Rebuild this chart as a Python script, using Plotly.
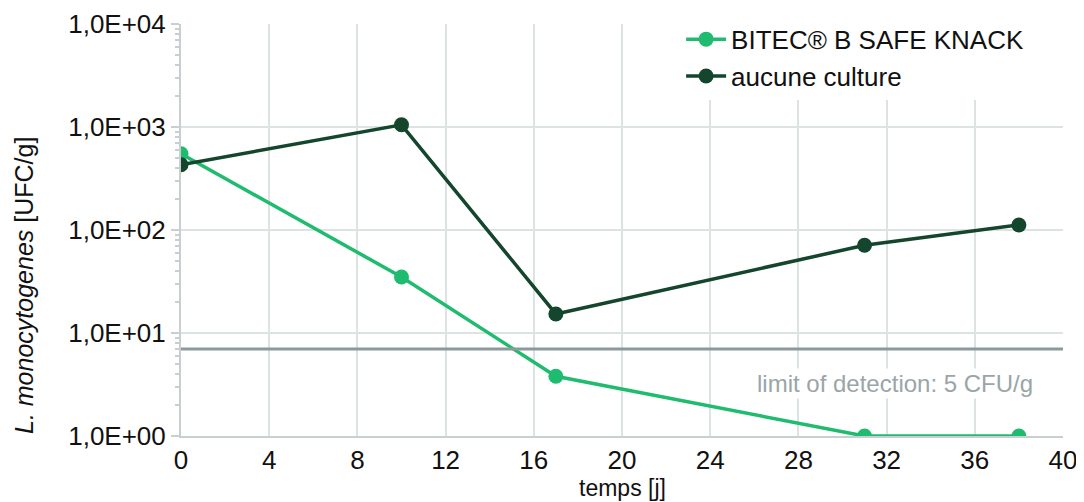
import plotly.graph_objects as go

days = [0, 10, 17, 31, 38]
bitec = [550, 35, 3.8, 1, 1]
aucune = [430, 1050, 15.3, 71, 112]
detection_limit = 7
series_names = ["BITEC® B SAFE KNACK", "aucune culture"]
y_tickvals = [1, 10, 100, 1000, 10000]
y_ticktext = ["1,0E+00", "1,0E+01", "1,0E+02", "1,0E+03", "1,0E+04"]
x_tickvals = [0, 4, 8, 12, 16, 20, 24, 28, 32, 36, 40]

green = "#1fbb6f"
dark = "#14452d"
grid = "#dde2e3"
FONT = "Liberation Sans, Arial, sans-serif"

fig = go.Figure()
fig.add_trace(go.Scatter(x=days, y=bitec, name=series_names[0], mode="lines+markers",
                         line=dict(color=green, width=3.5),
                         marker=dict(color=green, size=15)))
fig.add_trace(go.Scatter(x=days, y=aucune, name=series_names[1], mode="lines+markers",
                         line=dict(color=dark, width=3.5),
                         marker=dict(color=dark, size=15)))

fig.add_hline(y=detection_limit, line=dict(color="#8e999c", width=3), layer="above")

fig.add_annotation(x=1, xref="paper", xanchor="right", xshift=-28,
                   y=0.5, yref="paper", yanchor="middle", yshift=-153,
                   text="limit of detection: 5 CFU/g", showarrow=False,
                   bgcolor="white", font=dict(family=FONT, size=24, color="#9aa5a8"))

fig.add_annotation(x=0, xref="paper", xshift=-173, y=0.5, yref="paper", yshift=-56,
                   text="<i>L. monocytogenes</i> [UFC/g]", textangle=-90, showarrow=False,
                   font=dict(family=FONT, size=25, color="#111"))

fig.add_annotation(x=0.5, xref="paper", y=0, yref="paper", yanchor="top", yshift=-37,
                   text="temps [j]", showarrow=False,
                   font=dict(family=FONT, size=23, color="#111"))

fig.update_layout(
    width=1076, height=494,
    margin=dict(l=173, r=21, t=16, b=66, autoexpand=False),
    paper_bgcolor="white", plot_bgcolor="white",
    font=dict(family=FONT, size=26, color="#111"),
    showlegend=True,
    legend=dict(x=0.567, y=1.02, xanchor="left", yanchor="top", bgcolor="white",
                font=dict(family=FONT, size=26, color="#111"), tracegroupgap=0,
                itemwidth=40),
    xaxis=dict(range=[0, 40], tickvals=x_tickvals, showgrid=True, gridcolor=grid, gridwidth=1.5,
               showline=True, linecolor="#c9cfd1", linewidth=2, zeroline=False, ticks="",
               tickfont=dict(size=26), automargin=False),
    yaxis=dict(type="log", range=[0, 4], tickvals=y_tickvals, ticktext=y_ticktext,
               showgrid=True, gridcolor=grid, gridwidth=1.5, automargin=False,
               showline=True, linecolor="#c9cfd1", linewidth=2, zeroline=False,
               ticks="outside", ticklen=8, tickcolor="#c9cfd1", tickwidth=2,
               minor=dict(ticks="outside", ticklen=4, tickcolor="#c9cfd1", showgrid=False,
                          dtick="D1"),
               tickfont=dict(size=26)),
)

fig.write_html("out.html")
